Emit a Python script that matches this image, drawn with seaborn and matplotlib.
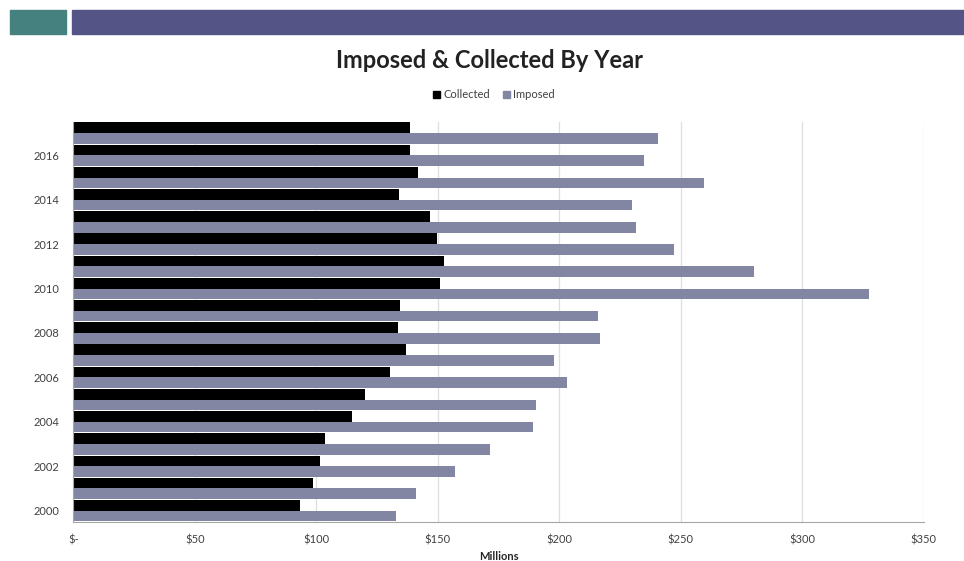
import numpy as np
import pandas as pd
import matplotlib
matplotlib.use("Agg")
import matplotlib.pyplot as plt
from matplotlib.patches import Rectangle
import seaborn as sns

years = list(range(2017, 1999, -1))
collected = [138.4, 138.4, 141.7, 133.9, 147.0, 149.7, 152.5, 150.8, 134.6,
             133.5, 137.1, 130.2, 119.9, 114.8, 103.7, 101.6, 98.5, 93.4]
imposed = [240.5, 234.7, 259.5, 230.0, 231.7, 247.3, 280.2, 327.6, 216.0,
           216.9, 197.9, 203.3, 190.5, 189.4, 171.6, 157.1, 140.9, 132.8]
series = ["Collected", "Imposed"]
xticks = [0, 50, 100, 150, 200, 250, 300, 350]
xtick_labels = ["$-", "$50", "$100", "$150", "$200", "$250", "$300", "$350"]

df = pd.DataFrame({
    "Year": [str(y) for y in years] * 2,
    "Value": collected + imposed,
    "Series": ["Collected"] * len(years) + ["Imposed"] * len(years),
})

sns.set_style("white")
plt.rcParams["font.family"] = ["Lato", "DejaVu Sans"]

W, H = 964, 561
fig = plt.figure(figsize=(W / 100, H / 100), dpi=100)

# header bars
fig.patches.append(Rectangle((10 / W, 1 - 34 / H), 56 / W, 24 / H,
                             transform=fig.transFigure, color="#45817f"))
fig.patches.append(Rectangle((72 / W, 1 - 34 / H), (W - 72) / W, 24 / H,
                             transform=fig.transFigure, color="#555487"))

ax = fig.add_axes([73.3 / W, (H - 521.7) / H, (923.7 - 73.3) / W, (521.7 - 122) / H])

sns.barplot(data=df, x="Value", y="Year", hue="Series", hue_order=series,
            order=[str(y) for y in years], orient="h",
            palette={"Collected": "#000000", "Imposed": "#8386a2"},
            width=0.96, ax=ax, legend=False, saturation=1, linewidth=0)

ax.set_xlim(0, 350)
ax.set_xticks(xticks)
ax.set_xticklabels(xtick_labels, fontsize=8, color="#404040")
ax.xaxis.grid(True, color="#dedede", linewidth=0.9)
ax.set_axisbelow(True)

labels = [str(y) if y % 2 == 0 else "" for y in years]
ax.set_yticks(range(len(years)))
ax.set_yticklabels(labels, fontsize=8, color="#404040")
ax.tick_params(axis="y", length=0, pad=10)
ax.set_yticks(np.arange(-0.5, len(years), 1), minor=True)
ax.tick_params(axis="y", which="minor", length=3, color="#a6a6a6", direction="out")
ax.tick_params(axis="x", length=3, color="#a6a6a6", direction="out", pad=6)
ax.set_ylim(len(years) - 0.5, -0.5)

for s in ["top", "right"]:
    ax.spines[s].set_visible(False)
for s in ["left", "bottom"]:
    ax.spines[s].set_color("#a6a6a6")
    ax.spines[s].set_linewidth(0.8)

ax.set_ylabel("")
ax.set_xlabel("Millions", fontsize=8, fontweight="bold", labelpad=4)

fig.text(0.508, 1 - 61 / H, "Imposed & Collected By Year", ha="center", va="center",
         fontsize=17, fontweight="bold", color="#222222")

handles = [Rectangle((0, 0), 1, 1, color="#000000"), Rectangle((0, 0), 1, 1, color="#8386a2")]
fig.legend(handles, series, loc="center", bbox_to_anchor=(494 / W, 1 - 95 / H), ncol=2,
           frameon=False, fontsize=8, handlelength=0.6, handleheight=0.6,
           handletextpad=0.3, columnspacing=1.2, labelcolor="#404040")

fig.savefig("out.png", dpi=100)
